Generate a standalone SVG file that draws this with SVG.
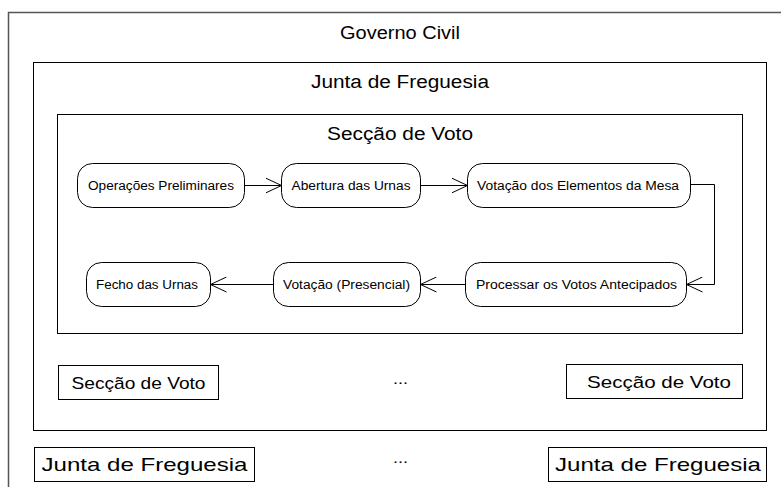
<svg xmlns="http://www.w3.org/2000/svg" width="781" height="487" viewBox="0 0 781 487">
<defs>
<style>
.box{fill:none;stroke:#000;stroke-width:1}
.outer{fill:none;stroke:#555;stroke-width:1.5}
.node{fill:#fff;stroke:#000;stroke-width:1}
.t{font-family:"Liberation Sans",Arial,sans-serif;fill:#000;text-anchor:middle}
.big{font-size:18px}
.mid{font-size:17px}
.jf{font-size:19px}
.sm{font-size:12px}
.dots{font-size:14px}
.conn{fill:none;stroke:#000;stroke-width:1}
</style>
<marker id="arr" viewBox="0 0 16 16" refX="16" refY="8" markerWidth="16" markerHeight="16" markerUnits="userSpaceOnUse" orient="auto">
<path d="M0,0.5 L16,8 L0,15.5" fill="none" stroke="#000" stroke-width="1"/>
</marker>
</defs>
<rect width="781" height="487" fill="#fff"/>
<g id="governo-civil">
<rect class="outer" x="8.5" y="12.5" width="800" height="500"/>
<text class="t big" x="400" y="39" textLength="120" lengthAdjust="spacingAndGlyphs">Governo Civil</text>
</g>
<g id="junta-freguesia">
<rect class="box" x="33.5" y="62.5" width="733" height="368"/>
<text class="t big" x="400" y="88" textLength="178" lengthAdjust="spacingAndGlyphs">Junta de Freguesia</text>
</g>
<g id="seccao-voto">
<rect class="box" x="57.5" y="114.5" width="685" height="219"/>
<text class="t big" x="400" y="140" textLength="146" lengthAdjust="spacingAndGlyphs">Secção de Voto</text>
</g>
<g id="n-operacoes">
<rect class="node" x="77.5" y="163.5" width="167" height="44" rx="15"/>
<text class="t sm" x="161" y="189.5" textLength="146" lengthAdjust="spacingAndGlyphs">Operações Preliminares</text>
</g>
<g id="n-abertura">
<rect class="node" x="281.5" y="163.5" width="139" height="44" rx="15"/>
<text class="t sm" x="351" y="189.5" textLength="119" lengthAdjust="spacingAndGlyphs">Abertura das Urnas</text>
</g>
<g id="n-mesa">
<rect class="node" x="467.5" y="163.5" width="223" height="44" rx="15"/>
<text class="t sm" x="578" y="189.5" textLength="202" lengthAdjust="spacingAndGlyphs">Votação dos Elementos da Mesa</text>
</g>
<g id="n-processar">
<rect class="node" x="465.5" y="262.5" width="221" height="44" rx="15"/>
<text class="t sm" x="576.5" y="288.5" textLength="201" lengthAdjust="spacingAndGlyphs">Processar os Votos Antecipados</text>
</g>
<g id="n-presencial">
<rect class="node" x="273.5" y="262.5" width="147" height="44" rx="15"/>
<text class="t sm" x="346.5" y="288.5" textLength="127" lengthAdjust="spacingAndGlyphs">Votação (Presencial)</text>
</g>
<g id="n-fecho">
<rect class="node" x="86.5" y="262.5" width="124" height="44" rx="15"/>
<text class="t sm" x="147" y="288.5" textLength="102" lengthAdjust="spacingAndGlyphs">Fecho das Urnas</text>
</g>
<g id="connectors">
<path class="conn" d="M244.5,185.5 H281.5" marker-end="url(#arr)"/>
<path class="conn" d="M420.5,185.5 H467.5" marker-end="url(#arr)"/>
<path class="conn" d="M690.5,184.5 H714.5 V284.5 H686.5" marker-end="url(#arr)"/>
<path class="conn" d="M465.5,284.5 H420.5" marker-end="url(#arr)"/>
<path class="conn" d="M273.5,284.5 H210.5" marker-end="url(#arr)"/>
</g>
<g id="seccao-voto-1">
<rect class="box" x="58.5" y="365.5" width="160" height="34"/>
<text class="t mid" x="138.5" y="389" textLength="134" lengthAdjust="spacingAndGlyphs">Secção de Voto</text>
</g>
<text class="t dots" x="400.5" y="384" textLength="15" lengthAdjust="spacingAndGlyphs">...</text>
<g id="seccao-voto-n">
<rect class="box" x="566.5" y="364.5" width="176" height="34"/>
<text class="t mid" x="659" y="388" textLength="144" lengthAdjust="spacingAndGlyphs">Secção de Voto</text>
</g>
<g id="junta-freguesia-1">
<rect class="box" x="34.5" y="447.5" width="220" height="34"/>
<text class="t jf" x="144.5" y="471" textLength="206" lengthAdjust="spacingAndGlyphs">Junta de Freguesia</text>
</g>
<text class="t dots" x="400.5" y="463" textLength="15" lengthAdjust="spacingAndGlyphs">...</text>
<g id="junta-freguesia-n">
<rect class="box" x="548.5" y="447.5" width="218" height="34"/>
<text class="t jf" x="658" y="471" textLength="206" lengthAdjust="spacingAndGlyphs">Junta de Freguesia</text>
</g>
</svg>
